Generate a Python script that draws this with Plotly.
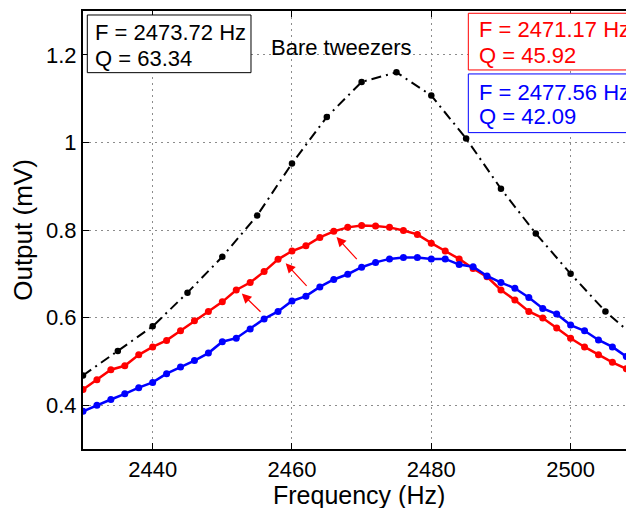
import plotly.graph_objects as go

# swept frequency (Hz), 2 Hz steps for the two measured curves
freq = list(range(2430, 2512, 2))

# red curve (output, mV)
red_out = [0.436, 0.458, 0.481, 0.490, 0.515, 0.533, 0.548, 0.570, 0.593, 0.614,
           0.636, 0.663, 0.680, 0.705, 0.733, 0.752, 0.764, 0.783, 0.797, 0.806,
           0.810, 0.809, 0.806, 0.799, 0.790, 0.770, 0.752, 0.734, 0.712, 0.693,
           0.663, 0.640, 0.614, 0.599, 0.576, 0.553, 0.533, 0.515, 0.498, 0.483,
           0.466]

# blue curve (output, mV)
blue_out = [0.386, 0.400, 0.413, 0.426, 0.440, 0.452, 0.472, 0.487, 0.502, 0.519,
            0.545, 0.553, 0.574, 0.597, 0.614, 0.638, 0.649, 0.670, 0.687, 0.699,
            0.715, 0.726, 0.734, 0.737, 0.737, 0.734, 0.734, 0.721, 0.716, 0.695,
            0.680, 0.667, 0.646, 0.621, 0.608, 0.583, 0.570, 0.549, 0.533, 0.511,
            0.500]

# bare tweezers, 5 Hz steps
bare_freq = list(range(2430, 2515, 5))
bare_out = [0.468, 0.524, 0.580, 0.657, 0.739, 0.833, 0.952, 1.058, 1.138, 1.160,
            1.107, 1.009, 0.894, 0.792, 0.700, 0.614, 0.545]

# fit results shown in the boxes
fit_bare = ("2473.72", "63.34")
fit_red = ("2471.17", "45.92")
fit_blue = ("2477.56", "42.09")

# arrows: (tail freq, tail mV, head freq, head mV)
arrows = [
    (2455.7, 0.610, 2452.8, 0.655),
    (2462.3, 0.669, 2459.1, 0.724),
    (2469.5, 0.730, 2466.4, 0.784),
]

x_ticks = [2440, 2460, 2480, 2500]
y_ticks = [0.4, 0.6, 0.8, 1.0, 1.2]
y_tick_text = ["0.4", "0.6", "0.8", "1", "1.2"]

FONT = "Liberation Sans, Arial, sans-serif"

fig = go.Figure()

fig.add_trace(go.Scatter(
    x=bare_freq, y=bare_out, mode="lines+markers",
    line=dict(color="black", width=2, dash="10px,5px,2px,5px"),
    marker=dict(color="black", size=6.5),
    showlegend=False,
))
fig.add_trace(go.Scatter(
    x=freq, y=red_out, mode="lines+markers",
    line=dict(color="#ff0000", width=2.5),
    marker=dict(color="#ff0000", size=7),
    showlegend=False,
))
fig.add_trace(go.Scatter(
    x=freq, y=blue_out, mode="lines+markers",
    line=dict(color="#0000ff", width=2.5),
    marker=dict(color="#0000ff", size=7),
    showlegend=False,
))

annotations = []
for x0, y0, x1, y1 in arrows:
    annotations.append(dict(
        x=x1, y=y1, ax=x0, ay=y0, xref="x", yref="y", axref="x", ayref="y",
        text="", showarrow=True, arrowhead=2, arrowsize=1.6, arrowwidth=1.2,
        arrowcolor="#ff0000",
    ))

shapes = []


def fit_box(fit, color, x0, x1, y0, y1, tx, ty_f, ty_q):
    # box outline, then one annotation per text line
    shapes.append(dict(
        type="rect", xref="paper", yref="paper", x0=x0, x1=x1, y0=y0, y1=y1,
        line=dict(color=color, width=1), fillcolor="white", layer="above",
    ))
    for line, ty in ((f"F = {fit[0]} Hz", ty_f), (f"Q = {fit[1]}", ty_q)):
        annotations.append(dict(
            xref="paper", yref="paper", x=tx, y=ty, xanchor="left", yanchor="middle",
            text=line, showarrow=False,
            font=dict(family=FONT, size=22, color=color),
        ))


fit_box(fit_bare, "black", 0.0078, 0.3049, 0.8592, 0.9909, 0.0182, 0.9498, 0.8916)
fit_box(fit_red, "#ff0000", 0.6993, 0.9991, 0.8654, 0.9948, 0.7145, 0.9578, 0.8973)
fit_box(fit_blue, "#0000ff", 0.6993, 0.9991, 0.7223, 0.8563, 0.7145, 0.8141, 0.7582)

annotations.append(dict(
    xref="paper", yref="paper", x=0.470, y=0.9156, xanchor="center", yanchor="middle",
    text="Bare tweezers", showarrow=False,
    font=dict(family=FONT, size=22, color="black"),
))

# x axis title, placed by hand below the tick labels
annotations.append(dict(
    xref="paper", yref="paper", x=0.5, y=-0.105, xanchor="center", yanchor="middle",
    text="Frequency (Hz)", showarrow=False,
    font=dict(family=FONT, size=25, color="black"),
))

axis_common = dict(
    showgrid=True, gridcolor="#8c8c8c", griddash="2px,4px", gridwidth=1,
    showline=True, linecolor="black", linewidth=2,
    ticks="inside", ticklen=6, tickcolor="black", tickwidth=1,
    tickfont=dict(family=FONT, size=22, color="black"),
    zeroline=False, automargin=False,
)

# the page body adds an 8px offset, so the figure is 8px smaller than the window
fig.update_layout(
    width=626, height=500,
    margin=dict(l=75, r=0, t=3, b=59, autoexpand=False),
    paper_bgcolor="white", plot_bgcolor="white",
    font=dict(family=FONT, color="black"),
    annotations=annotations,
    shapes=shapes,
    xaxis=dict(
        range=[2430, 2509.1], tickvals=x_ticks, mirror="ticks",
        **axis_common,
    ),
    yaxis=dict(
        range=[0.3, 1.3], tickvals=y_ticks, ticktext=y_tick_text,
        title=dict(text="Output (mV)", font=dict(family=FONT, size=26), standoff=8),
        **axis_common,
    ),
)

fig.write_html("out.html")
